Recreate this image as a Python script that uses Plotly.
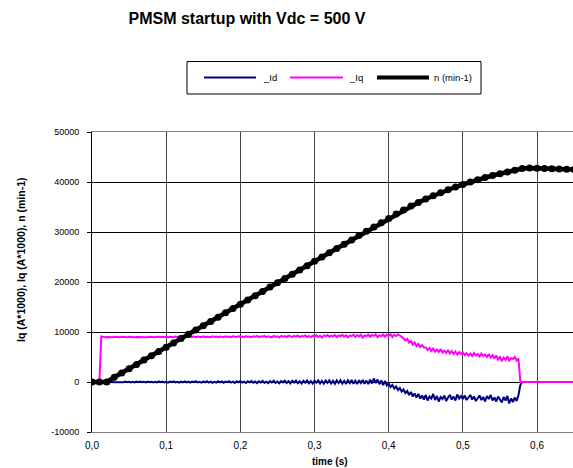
import plotly.graph_objects as go

# ---- data ----
t_n = [round(0.01 * i, 2) for i in range(66)]
n_speed = [0, 0, 0, 950, 1800, 2650, 3500, 4400, 5250, 6100,
           6950, 7800, 8700, 9550, 10400, 11250, 12100, 12950, 13850, 14700,
           15550, 16400, 17250, 18100, 19000, 19850, 20700, 21550, 22400, 23250,
           24150, 25000, 25850, 26700, 27550, 28400, 29300, 30150, 31000, 31850,
           32700, 33600, 34400, 35200, 35900, 36600, 37250, 37850, 38450, 39000,
           39500, 40000, 40450, 40900, 41300, 41650, 42000, 42350, 42700, 42800,
           42750, 42700, 42650, 42600, 42550, 42500]

t_cur = [round(0.0025 * i, 4) for i in range(233)] + [0.65]

iq = [0, 0, 0, 0, 0, 9100, 9000, 8950, 9020, 8980,
      9010, 8960, 9040, 8990, 9020, 8970, 9050, 8990, 9010, 8960,
      9030, 8980, 9060, 8970, 9020, 8990, 9050, 8950, 9040, 9000,
      8960, 9060, 8990, 9030, 8950, 9070, 9000, 8980, 9050, 8970,
      9080, 8960, 9040, 9000, 8940, 9090, 8990, 9050, 8960, 9070,
      9000, 9100, 8950, 9060, 8990, 9110, 8970, 9080, 9010, 8960,
      9120, 8980, 9060, 9020, 8950, 9130, 9000, 9070, 8960, 9100,
      9020, 8940, 9150, 9010, 9080, 8970, 9130, 9040, 8990, 9160,
      9000, 9090, 8950, 9170, 9030, 9110, 8980, 9150, 9040, 9200,
      8960, 9130, 9050, 9220, 8990, 9160, 9070, 8940, 9210, 9060,
      9150, 8920, 9240, 9080, 9170, 8980, 9260, 9100, 9000, 9230,
      9060, 9290, 8970, 9180, 9120, 9310, 9010, 9200, 8950, 9280,
      9100, 9330, 9020, 9250, 8900, 9310, 9150, 9380, 9030, 9260,
      9120, 9400, 8980, 9300, 9170, 9420, 9050, 9350, 8950, 9280,
      9200, 9450, 9020, 9380, 9100, 9460, 8900, 9330, 9180, 9480,
      9060, 9400, 9220, 9520, 8980, 9360, 9150, 9500, 9050, 9430,
      9240, 9550, 9000, 9420, 9180, 9500, 9300, 9050, 8700, 8300,
      8600, 7900, 8200, 7500, 7900, 7200, 7600, 7000, 7400, 6900,
      6900, 6400, 6800, 6200, 6700, 6100, 6500, 6000, 6600, 5900,
      6300, 5800, 6400, 5700, 6200, 5600, 6100, 5500, 6000, 5600,
      5900, 5400, 5800, 5300, 5700, 5200, 5800, 5300, 5600, 5100,
      5700, 5200, 5500, 5000, 5600, 4900, 5400, 4700, 5300, 4500,
      5000, 4200, 4900, 4400, 5100, 4300, 4800, 4600, 5000, 4300,
      4700, 0, 0, 0]

id_ = [0, 0, 0, 0, 0, 0, 60, -40, 50, -30,
       40, -60, 70, -20, 50, -80, 30, -50, 80, -40,
       60, -70, 20, -90, 70, -30, 90, -60, 40, -80,
       100, -50, 60, -100, 30, -70, 110, -40, 80, -90,
       50, -110, 90, -30, 120, -80, 40, -120, 70, -60,
       130, -90, 60, -140, 100, -50, 150, -100, 30, -130,
       110, -70, 160, -120, 80, -150, 40, -100, 170, -60,
       120, -170, 90, -40, 180, -130, 60, -190, 140, -80,
       200, -110, 70, -200, 150, -60, 210, -160, 90, -220,
       130, -100, 240, -150, 50, -230, 180, -90, 250, -190,
       110, -260, 200, -70, 270, -210, 140, -280, 230, -120,
       290, -240, 160, -300, 250, -130, 310, -260, 180, -320,
       270, -150, 330, -280, 200, -340, 290, -170, 350, -300,
       220, -360, 310, -190, 380, -320, 240, -380, 340, -210,
       400, -340, 260, -400, 360, -230, 420, -360, 280, -420,
       450, -300, 700, -200, 500, -450, 300, -600, 200, -700,
       -300, -1000, -600, -1300, -900, -1600, -1200, -1900, -1500, -2200,
       -1800, -2600, -2000, -2900, -2300, -3100, -2400, -3300, -2700, -3500,
       -2600, -3700, -2900, -3300, -2400, -3600, -2800, -3900, -3000, -3400,
       -2700, -3800, -3100, -2600, -3500, -2900, -3700, -2500, -3300, -2800,
       -3400, -2700, -3600, -3000, -2600, -3500, -2900, -3800, -3100, -2700,
       -3600, -3000, -3900, -2800, -3400, -2600, -3700, -3100, -3900, -2900,
       -3500, -4100, -3000, -3700, -2800, -4300, -3300, -4000, -3100, -3800,
       -2600, -600, 0, 0]

x_ticks = [0, 0.1, 0.2, 0.3, 0.4, 0.5, 0.6]
x_labels = ["0,0", "0,1", "0,2", "0,3", "0,4", "0,5", "0,6"]
y_ticks = [-10000, 0, 10000, 20000, 30000, 40000, 50000]
y_labels = ["-10000", "0", "10000", "20000", "30000", "40000", "50000"]

series_names = ["_Id", "_Iq", "n (min-1)"]
series_colors = ["#000080", "#FF00FF", "#000000"]
series_widths = [2, 2, 4.5]

FONT = "Liberation Sans, Arial, sans-serif"

# layout geometry (pixels)
W, H = 573, 468
ML, MR, MT, MB = 92, 0, 132, 36
PW, PH = W - ML - MR, H - MT - MB


def px_x(px):
    return (px - ML) / PW


def px_y(py):
    return (H - MB - py) / PH


fig = go.Figure()
fig.add_trace(go.Scatter(x=t_cur, y=id_, mode="lines", name=series_names[0],
                         line=dict(color=series_colors[0], width=series_widths[0])))
fig.add_trace(go.Scatter(x=t_cur, y=iq, mode="lines", name=series_names[1],
                         line=dict(color=series_colors[1], width=series_widths[1])))
fig.add_trace(go.Scatter(x=t_n, y=n_speed, mode="lines+markers", name=series_names[2],
                         line=dict(color=series_colors[2], width=series_widths[2]),
                         marker=dict(color="#000000", size=7, symbol="circle")))

# custom legend (box, samples, labels)
shapes = [dict(type="rect", xref="paper", yref="paper",
               x0=px_x(187), x1=px_x(481), y0=px_y(61.5), y1=px_y(94),
               line=dict(color="black", width=1), fillcolor="white", layer="above")]
annotations = []
sample_x = [(204, 256), (290, 343), (377, 429)]
label_x = [261, 347, 432]
for i in range(3):
    shapes.append(dict(type="line", xref="paper", yref="paper",
                       x0=px_x(sample_x[i][0]), x1=px_x(sample_x[i][1]),
                       y0=px_y(77.5), y1=px_y(77.5),
                       line=dict(color=series_colors[i], width=2 if i < 2 else 4),
                       layer="above"))
    annotations.append(dict(text=series_names[i], xref="paper", yref="paper",
                            x=px_x(label_x[i]), y=px_y(77.5), xanchor="left",
                            yanchor="middle", showarrow=False,
                            font=dict(size=9.5, family=FONT, color="black")))

annotations.append(dict(text="<b>Iq (A*1000), Iq (A*1000), n (min-1)</b>",
                        xref="paper", yref="paper", x=px_x(21), y=px_y(260),
                        textangle=-90, showarrow=False, xanchor="center",
                        yanchor="middle", font=dict(size=10.5, family=FONT, color="black")))
annotations.append(dict(text="<b>time (s)</b>", xref="paper", yref="paper",
                        x=px_x(330), y=px_y(461), showarrow=False, xanchor="center",
                        yanchor="middle", font=dict(size=10, family=FONT, color="black")))

fig.update_layout(
    width=W, height=H,
    margin=dict(l=ML, r=MR, t=MT, b=MB),
    paper_bgcolor="white", plot_bgcolor="white",
    font=dict(family=FONT, size=9, color="black"),
    title=dict(text="<b>PMSM startup with Vdc = 500 V</b>", xref="container",
               x=247 / W, xanchor="center", yref="container", y=1 - 18 / H,
               yanchor="middle", font=dict(size=16, family=FONT, color="black")),
    showlegend=False,
    xaxis=dict(range=[0, 0.6485], tickvals=x_ticks, ticktext=x_labels,
               showgrid=True, gridcolor="#444444", gridwidth=1,
               zeroline=False, showline=True, linecolor="#808080", linewidth=1,
               mirror=True, ticks="", tickfont=dict(size=10),
               ticklabelstandoff=4),
    yaxis=dict(range=[-10000, 50000], tickvals=y_ticks, ticktext=y_labels,
               showgrid=True, gridcolor="black", gridwidth=1,
               zeroline=False, showline=True, linecolor="black", linewidth=1,
               ticks="outside", ticklen=4, tickcolor="black", tickfont=dict(size=9),
               ticklabelstandoff=6),
    shapes=shapes,
    annotations=annotations,
)

fig.write_html("out.html")
